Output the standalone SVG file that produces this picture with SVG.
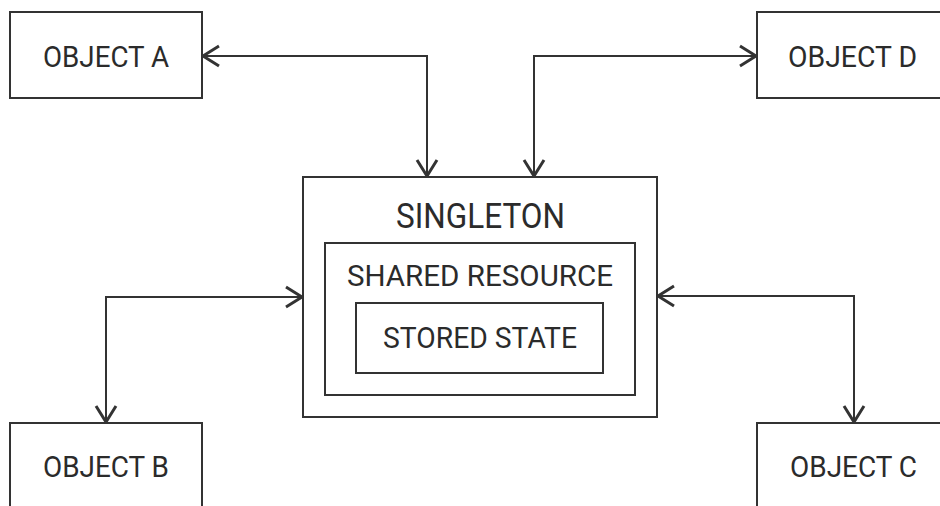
<svg xmlns="http://www.w3.org/2000/svg" width="940" height="506" viewBox="0 0 940 506">
  <defs>
    <style>
      .box { fill: #ffffff; stroke: #333333; stroke-width: 2; }
      .lbl { font-family: Roboto, "Liberation Sans", sans-serif; fill: #2b2b2b; }
      .obj { font-size: 30px; }
      .wire { fill: none; stroke: #333333; stroke-width: 2; }
      .head { fill: none; stroke: #333333; stroke-width: 3; stroke-linecap: butt; stroke-linejoin: miter; }
    </style>
    <marker id="chev" viewBox="0 0 20 24" refX="18" refY="12" markerWidth="20" markerHeight="24" markerUnits="userSpaceOnUse" orient="auto-start-reverse">
      <path class="head" d="M2,2 L18,12 L2,22"/>
    </marker>
  </defs>

  <rect width="940" height="506" fill="#ffffff"/>

  <!-- connectors: each one is two-way -->
  <g id="connectors">
    <path class="wire" d="M203,56 L427,56 L427,176" marker-start="url(#chev)" marker-end="url(#chev)"/>
    <path class="wire" d="M534,176 L534,56 L756,56" marker-start="url(#chev)" marker-end="url(#chev)"/>
    <path class="wire" d="M302,297 L106,297 L106,422" marker-start="url(#chev)" marker-end="url(#chev)"/>
    <path class="wire" d="M658,296 L854,296 L854,422" marker-start="url(#chev)" marker-end="url(#chev)"/>
  </g>

  <g id="object-a">
    <rect class="box" x="10" y="12" width="192" height="86"/>
    <text class="lbl obj" x="43" y="67" textLength="126" lengthAdjust="spacingAndGlyphs">OBJECT A</text>
  </g>

  <g id="object-d">
    <rect class="box" x="757" y="12" width="200" height="86"/>
    <text class="lbl obj" x="788" y="67" textLength="129" lengthAdjust="spacingAndGlyphs">OBJECT D</text>
  </g>

  <g id="object-b">
    <rect class="box" x="10" y="423" width="192" height="100"/>
    <text class="lbl obj" x="43" y="477" textLength="126" lengthAdjust="spacingAndGlyphs">OBJECT B</text>
  </g>

  <g id="object-c">
    <rect class="box" x="757" y="423" width="200" height="100"/>
    <text class="lbl obj" x="790" y="477" textLength="127" lengthAdjust="spacingAndGlyphs">OBJECT C</text>
  </g>

  <g id="singleton">
    <rect class="box" x="303" y="177" width="354" height="240"/>
    <text class="lbl" x="396" y="228" font-size="35" textLength="169" lengthAdjust="spacingAndGlyphs">SINGLETON</text>
  </g>

  <g id="shared-resource">
    <rect class="box" x="325" y="243" width="310" height="152"/>
    <text class="lbl" x="347" y="286" font-size="30" textLength="266" lengthAdjust="spacingAndGlyphs">SHARED RESOURCE</text>
  </g>

  <g id="stored-state">
    <rect class="box" x="356" y="303" width="247" height="70"/>
    <text class="lbl" x="383" y="348" font-size="30" textLength="194" lengthAdjust="spacingAndGlyphs">STORED STATE</text>
  </g>
</svg>
